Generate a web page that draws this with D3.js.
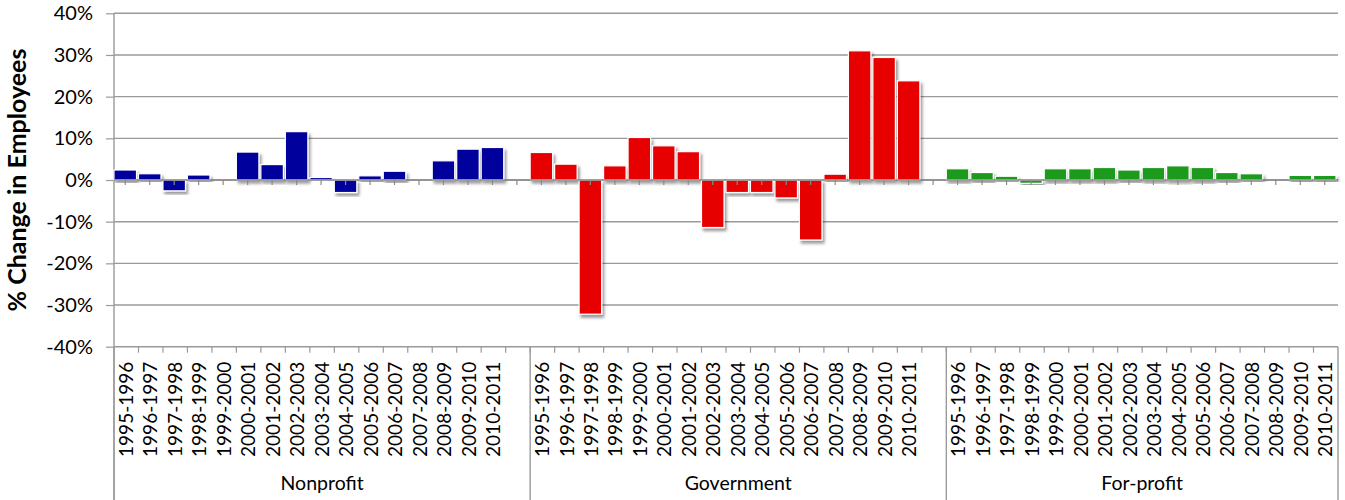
<!DOCTYPE html>
<html>
<head>
<meta charset="utf-8">
<script src="https://cdn.jsdelivr.net/npm/d3@7"></script>
<style>
  body { margin: 0; background: #fff; }
  text { font-family: Lato, "Open Sans", sans-serif; fill: #000; }
</style>
</head>
<body>
<div id="chart"></div>
<script>
// periods on the category axis
const periods = ["1995-1996", "1996-1997", "1997-1998", "1998-1999", "1999-2000", "2000-2001",
  "2001-2002", "2002-2003", "2003-2004", "2004-2005", "2005-2006", "2006-2007",
  "2007-2008", "2008-2009", "2009-2010", "2010-2011"];
const groups = ["Nonprofit", "Government", "For-profit"];

// % change in employees (null = no bar)
const nonprofit = [2.4, 1.5, -2.6, 1.2, null, 6.7, 3.7, 11.6, 0.6, -3.0, 1.0, 2.1, null, 4.6, 7.4, 7.8];
const government = [6.6, 3.8, -32.2, 3.4, 10.2, 8.2, 6.8, -11.4, -3.0, -3.0, -4.3, -14.4, 1.4, 31.0, 29.4, 23.8];
const forprofit = [2.7, 1.8, 0.9, -0.8, 2.7, 2.7, 3.0, 2.4, 3.0, 3.4, 3.0, 1.8, 1.5, null, 1.1, 1.1];
const seriesValues = [nonprofit, government, forprofit];
const colors = ["#00009c", "#e60000", "#1e9a1e"];

const yTicks = [-40, -30, -20, -10, 0, 10, 20, 30, 40];

const width = 1345, height = 500;
const margin = { left: 114, right: 1338, top: 13.3, bottom: 346.7 };

// one slot per period, plus an empty slot after the first two groups
const slots = [];
groups.forEach((g, gi) => {
  periods.forEach(p => slots.push(g + "|" + p));
  if (gi < groups.length - 1) slots.push(g + "|blank");
});

const bars = [];
groups.forEach((g, gi) => {
  periods.forEach((p, i) => {
    if (seriesValues[gi][i] != null) bars.push({ group: g, gi: gi, period: p, value: seriesValues[gi][i] });
  });
});

const x = d3.scaleBand().domain(slots).range([margin.left, margin.right]);
const y = d3.scaleLinear().domain([-40, 40]).range([margin.bottom, margin.top]);

const svg = d3.select("#chart").append("svg")
  .attr("width", width)
  .attr("height", height);

const defs = svg.append("defs");
const shadow = defs.append("filter").attr("id", "shadow")
  .attr("x", "-20%").attr("y", "-20%").attr("width", "150%").attr("height", "150%");
shadow.append("feDropShadow")
  .attr("dx", 2).attr("dy", 3).attr("stdDeviation", 1.8)
  .attr("flood-color", "#000").attr("flood-opacity", 0.4);

// gridlines
svg.append("g")
  .selectAll("line")
  .data(yTicks)
  .join("line")
  .attr("x1", margin.left).attr("x2", margin.right)
  .attr("y1", d => y(d)).attr("y2", d => y(d))
  .attr("stroke", "#9a9a9a")
  .attr("stroke-width", 1.4);

// y axis
const yAxis = svg.append("g")
  .attr("transform", `translate(${margin.left},0)`)
  .call(d3.axisLeft(y).tickValues(yTicks).tickSize(8).tickPadding(13).tickFormat(d => d + "%"));
yAxis.select(".domain").remove();
yAxis.selectAll(".tick line").attr("stroke", "#9a9a9a").attr("stroke-width", 1.2);
yAxis.selectAll(".tick text").style("font-size", "20px").style("font-family", "Lato, sans-serif").attr("fill", "#111");

svg.append("line")
  .attr("x1", margin.left).attr("x2", margin.left)
  .attr("y1", margin.top).attr("y2", height)
  .attr("stroke", "#9a9a9a").attr("stroke-width", 1.4);

// bars
const bw = x.bandwidth() * 0.92;
svg.append("g")
  .selectAll("rect")
  .data(bars)
  .join("rect")
  .attr("x", d => x(d.group + "|" + d.period) + (x.bandwidth() - bw) / 2 - 1)
  .attr("y", d => y(Math.max(0, d.value)))
  .attr("width", bw)
  .attr("height", d => Math.abs(y(d.value) - y(0)))
  .attr("fill", d => colors[d.gi])
  .attr("stroke", "#fff")
  .attr("stroke-width", 1.2)
  .attr("filter", "url(#shadow)");

// zero line with small ticks at slot centres
svg.append("line")
  .attr("x1", margin.left).attr("x2", margin.right)
  .attr("y1", y(0)).attr("y2", y(0))
  .attr("stroke", "#8a8a8a").attr("stroke-width", 1.4);
svg.append("g")
  .selectAll("line")
  .data(slots)
  .join("line")
  .attr("x1", d => x(d) + x.bandwidth() / 2 - 1)
  .attr("x2", d => x(d) + x.bandwidth() / 2 - 1)
  .attr("y1", y(0)).attr("y2", y(0) + 5)
  .attr("stroke", "#8a8a8a").attr("stroke-width", 1.2);

// bottom category axis
const xAxis = svg.append("g")
  .attr("transform", `translate(0,${margin.bottom})`)
  .call(d3.axisBottom(x).tickSize(0).tickFormat(d => d.endsWith("blank") ? "" : d.split("|")[1]));
xAxis.select(".domain").remove();
xAxis.selectAll(".tick text")
  .attr("transform", "rotate(-90)")
  .attr("text-anchor", "end")
  .attr("x", -15)
  .attr("y", 0)
  .attr("dy", "0.35em")
  .style("font-size", "19px")
  .style("font-family", "Lato, sans-serif")
  .attr("fill", "#111");

// boundary ticks under the axis
svg.append("g")
  .selectAll("line")
  .data(slots.slice(1))
  .join("line")
  .attr("x1", d => x(d)).attr("x2", d => x(d))
  .attr("y1", margin.bottom).attr("y2", margin.bottom + 6)
  .attr("stroke", "#9a9a9a").attr("stroke-width", 1.2);

// group dividers
const groupEdges = [margin.left, x(groups[1] + "|" + periods[0]), x(groups[2] + "|" + periods[0]), margin.right];
svg.append("g")
  .selectAll("line")
  .data(groupEdges)
  .join("line")
  .attr("x1", d => d).attr("x2", d => d)
  .attr("y1", margin.bottom).attr("y2", height)
  .attr("stroke", "#9a9a9a").attr("stroke-width", 1.4);

// group labels
svg.append("g")
  .selectAll("text")
  .data(groups)
  .join("text")
  .attr("x", (d, i) => (groupEdges[i] + groupEdges[i + 1]) / 2)
  .attr("y", 490)
  .attr("text-anchor", "middle")
  .style("font-size", "19.5px")
  .attr("fill", "#111")
  .text(d => d);

// y axis title
svg.append("text")
  .attr("transform", "translate(26,180) rotate(-90)")
  .attr("text-anchor", "middle")
  .style("font-size", "25px")
  .style("font-weight", "bold")
  .text("% Change in Employees");
</script>
</body>
</html>
